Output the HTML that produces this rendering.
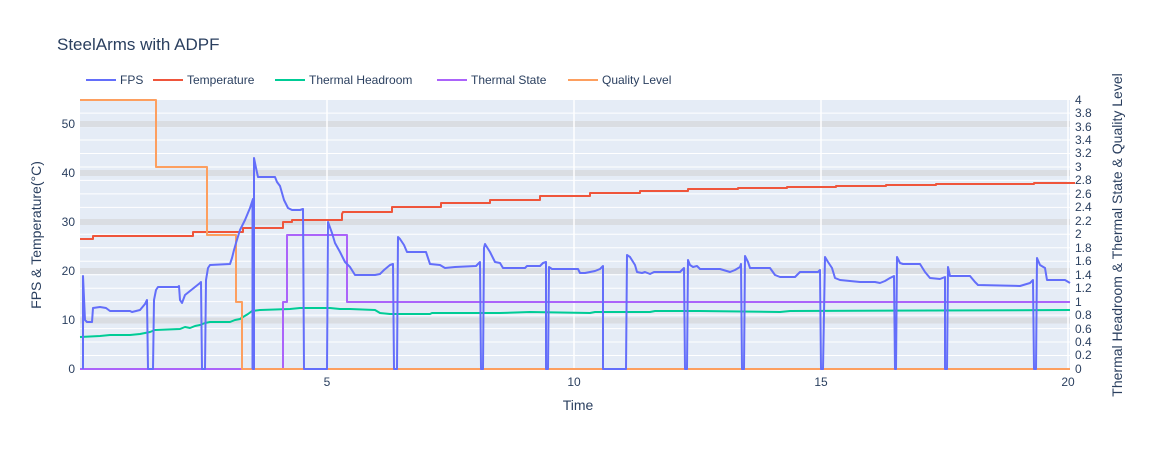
<!DOCTYPE html><html><head><style>body{margin:0;background:#fff}svg text{font-family:"Liberation Sans",sans-serif;fill:#2a3f5f}</style></head><body>
<svg width="1156" height="450" xmlns="http://www.w3.org/2000/svg">
<rect x="80" y="100" width="990" height="269" fill="#e5ecf6"/>
<g stroke="#fff" stroke-width="1">
<line x1="80" x2="1070" y1="355.5" y2="355.5"/><line x1="80" x2="1070" y1="342" y2="342"/><line x1="80" x2="1070" y1="328.6" y2="328.6"/><line x1="80" x2="1070" y1="315.1" y2="315.1"/><line x1="80" x2="1070" y1="301.6" y2="301.6"/><line x1="80" x2="1070" y1="288.2" y2="288.2"/><line x1="80" x2="1070" y1="274.7" y2="274.7"/><line x1="80" x2="1070" y1="261.2" y2="261.2"/><line x1="80" x2="1070" y1="247.8" y2="247.8"/><line x1="80" x2="1070" y1="234.3" y2="234.3"/><line x1="80" x2="1070" y1="220.8" y2="220.8"/><line x1="80" x2="1070" y1="207.4" y2="207.4"/><line x1="80" x2="1070" y1="193.9" y2="193.9"/><line x1="80" x2="1070" y1="180.4" y2="180.4"/><line x1="80" x2="1070" y1="167" y2="167"/><line x1="80" x2="1070" y1="153.5" y2="153.5"/><line x1="80" x2="1070" y1="140" y2="140"/><line x1="80" x2="1070" y1="126.6" y2="126.6"/><line x1="80" x2="1070" y1="113.1" y2="113.1"/>
</g>
<g stroke="#dadde2" stroke-width="6">
<line x1="80" x2="1070" y1="320.5" y2="320.5"/><line x1="80" x2="1070" y1="271" y2="271"/><line x1="80" x2="1070" y1="222" y2="222"/><line x1="80" x2="1070" y1="173" y2="173"/><line x1="80" x2="1070" y1="124" y2="124"/>
</g>
<g stroke="#fff" stroke-width="1.5"><line x1="327" x2="327" y1="100" y2="369"/><line x1="574" x2="574" y1="100" y2="369"/><line x1="821" x2="821" y1="100" y2="369"/><line x1="1068" x2="1068" y1="100" y2="369"/></g>
<g fill="none" stroke-width="2" stroke-linejoin="round">
<polyline stroke="#00cc96" points="80,337 100,336 110,335 130,335 140,334 145,333 150,332 155,330 180,329 185,327 190,328 195,326 200,325 205,323 210,322 230,322 235,320 240,319 243,317 248,314 252,311 260,310 290,309 300,308 330,308 340,309 350,309 375,310 380,313 390,314 400,314 430,314 432,313 500,313 530,312 590,313 595,312 650,312 655,311 700,311 780,312 790,311 1070,310"/>
<polyline stroke="#ef553b" points="80,239 93,239 93,236 193,236 193,232 243,232 243,228 283,228 283,222 292,222 292,220 342,220 342,214 343,212 392,212 392,207 441,207 441,203 490,203 490,200 540,200 540,196 590,196 590,193 640,193 640,191 688,191 688,189 738,189 738,188 787,188 787,187 836,187 836,186 886,186 886,185 936,185 936,184 1034,184 1034,183 1075,183"/>
<polyline stroke="#ab63fa" points="80,369 283,369 283,302 287,302 287,235 347,235 347,302 1070,302"/>
<polyline stroke="#fd9f5f" points="80,100 156,100 156,167 207,167 207,235 236,235 236,302 242,302 242,369 1070,369"/>
<polyline stroke="#636efa" points="83,369 83,276 85,320 87,322 92,322 93,308 100,307 106,308 110,311 130,311 132,312 140,310 145,304 147,300 148,369 153,369 154,300 156,290 158,287 178,287 179,286 180,300 182,303 185,295 200,283 201,282 202,369 205,369 206,280 208,268 210,265 230,264 232,258 234,250 236,243 240,230 245,220 250,208 253,199 253,369 254,369 254,158 256,168 258,177 275,177 277,182 280,186 284,200 288,208 292,210 300,210 303,209 304,369 327,369 328,222 332,233 335,243 340,252 345,262 350,267 355,275 375,275 380,274 384,270 390,265 393,264 394,369 397,369 398,237 400,239 404,245 407,252 426,252 428,258 430,264 440,265 445,268 455,267 476,266 480,262 481,369 483,369 484,248 485,244 490,252 495,262 500,263 503,268 525,268 527,266 540,266 543,263 546,262 546,369 548,369 549,267 552,269 578,269 580,273 585,273 595,271 600,269 603,266 603,369 626,369 627,255 630,257 635,265 637,272 642,273 645,272 650,274 654,272 680,272 684,268 685,369 687,369 688,260 690,265 693,267 697,266 700,269 720,269 730,272 735,270 740,267 741,264 742,369 744,369 745,256 748,262 750,268 770,268 775,275 780,277 795,277 800,272 818,272 820,270 821,369 823,369 825,257 828,262 832,268 835,278 840,280 860,282 875,282 880,283 885,281 890,278 894,276 895,369 896,369 897,257 900,263 903,264 920,264 925,272 930,278 940,279 945,277 945,369 947,369 948,267 950,276 970,276 975,282 978,285 1020,286 1030,283 1033,280 1034,369 1036,369 1037,258 1040,265 1045,268 1047,280 1065,280 1070,283"/>
<line x1="253" y1="369" x2="253" y2="200" stroke="#636efa" stroke-width="3"/>
</g>
<g font-size="12" text-anchor="end"><text x="75" y="373">0</text><text x="75" y="324">10</text><text x="75" y="275">20</text><text x="75" y="226">30</text><text x="75" y="177">40</text><text x="75" y="128">50</text></g>
<g font-size="12" text-anchor="middle"><text x="327" y="386">5</text><text x="574" y="386">10</text><text x="821" y="386">15</text><text x="1068" y="386">20</text></g>
<g font-size="12"><text x="1075" y="373">0</text><text x="1075" y="359">0.2</text><text x="1075" y="346">0.4</text><text x="1075" y="333">0.6</text><text x="1075" y="319">0.8</text><text x="1075" y="306">1</text><text x="1075" y="292">1.2</text><text x="1075" y="279">1.4</text><text x="1075" y="265">1.6</text><text x="1075" y="252">1.8</text><text x="1075" y="238">2</text><text x="1075" y="225">2.2</text><text x="1075" y="211">2.4</text><text x="1075" y="198">2.6</text><text x="1075" y="184">2.8</text><text x="1075" y="171">3</text><text x="1075" y="157">3.2</text><text x="1075" y="144">3.4</text><text x="1075" y="131">3.6</text><text x="1075" y="117">3.8</text><text x="1075" y="104">4</text></g>
<text x="57" y="50" font-size="17">SteelArms with ADPF</text>
<text x="578" y="410" font-size="14" text-anchor="middle">Time</text>
<text transform="translate(41,235) rotate(-90)" font-size="14" text-anchor="middle">FPS &amp; Temperature(°C)</text>
<text transform="translate(1122,235) rotate(-90)" font-size="14" text-anchor="middle">Thermal Headroom &amp; Thermal State &amp; Quality Level</text>
<g font-size="12" stroke-width="2">
<line x1="86" x2="116" y1="80" y2="80" stroke="#636efa"/><text x="120" y="84">FPS</text>
<line x1="153" x2="183" y1="80" y2="80" stroke="#ef553b"/><text x="187" y="84">Temperature</text>
<line x1="275" x2="305" y1="80" y2="80" stroke="#00cc96"/><text x="309" y="84">Thermal Headroom</text>
<line x1="437" x2="467" y1="80" y2="80" stroke="#ab63fa"/><text x="471" y="84">Thermal State</text>
<line x1="568" x2="598" y1="80" y2="80" stroke="#fd9f5f"/><text x="602" y="84">Quality Level</text>
</g>
</svg></body></html>
